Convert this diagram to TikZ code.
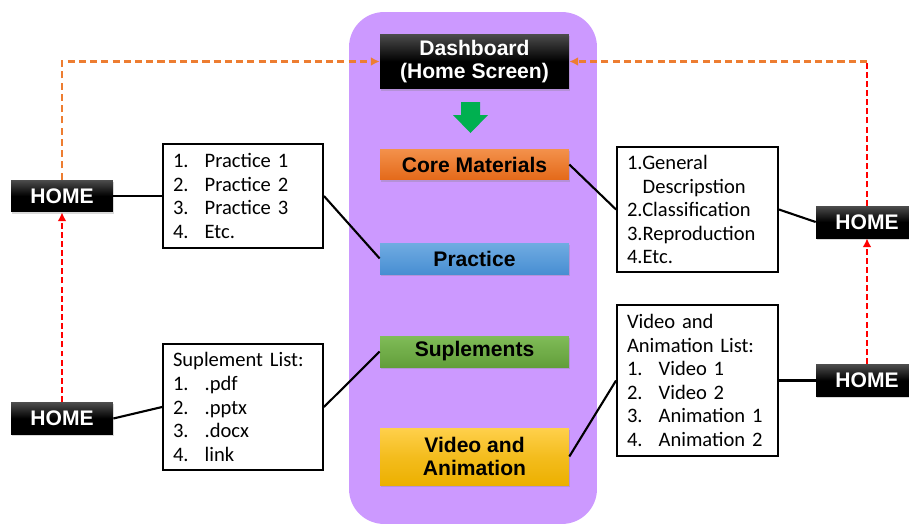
\documentclass[tikz,border=0pt]{standalone}
\usepackage{fontspec}
\setmainfont{Carlito}
\newfontfamily\arialfont{Liberation Sans}
\usepackage{tikz}
\usetikzlibrary{arrows.meta,positioning,calc,shadows}

\definecolor{panelpurple}{RGB}{204,153,255}
\definecolor{orangetop}{RGB}{243,145,75}
\definecolor{orangebot}{RGB}{228,105,25}
\definecolor{bluetop}{RGB}{112,172,226}
\definecolor{bluebot}{RGB}{72,142,210}
\definecolor{greentop}{RGB}{128,188,88}
\definecolor{greenbot}{RGB}{98,158,58}
\definecolor{yellowtop}{RGB}{255,208,75}
\definecolor{yellowbot}{RGB}{236,176,0}
\definecolor{arrowgreen}{RGB}{0,176,80}
\definecolor{dashorange}{RGB}{237,125,49}

\newcommand{\itm}[2]{\makebox[18pt][l]{#1}#2}

\begin{document}
\begin{tikzpicture}[
    x=0.02cm, y=-0.02cm,
    panel/.style={rectangle, fill=panelpurple, rounded corners=0.7cm, minimum width=4.96cm, minimum height=10.24cm, inner sep=0pt},
    menu/.style={rectangle, minimum width=3.78cm, minimum height=0.62cm, inner sep=1pt, align=center,
        font=\arialfont\bfseries\fontsize{12}{13}\selectfont,
        drop shadow={opacity=0.3, shadow xshift=0.6pt, shadow yshift=-1pt}},
    dark/.style={menu, top color=black!70, bottom color=black, middle color=black, text=white},
    home/.style={dark, minimum width=2.04cm, minimum height=0.64cm},
    list/.style={rectangle, draw, line width=1.1pt, fill=white, align=left, inner xsep=0.2cm, inner ysep=2pt,
        text width=2.8cm, font=\fontsize{11.7}{13.4}\selectfont},
    link/.style={line width=1.2pt},
    reddash/.style={red, line width=1.4pt, dash pattern=on 3.4pt off 1.8pt, -{Latex[length=5pt,width=5pt]}},
    orangedash/.style={dashorange, line width=1.4pt, dash pattern=on 4pt off 2.4pt, -{Latex[length=5pt,width=5pt]}}
]
    \useasboundingbox (0,0) rectangle (909,524);

    \node[panel] (bg) at (473,268) {};

    \node[dark, minimum height=1.1cm] (dash) at (474.5,61.5) {Dashboard\\(Home Screen)};
    \node[menu, top color=orangetop, bottom color=orangebot] (core) at (474.5,164.5) {Core Materials};
    \node[menu, top color=bluetop, bottom color=bluebot] (prac) at (474.5,258.5) {Practice};
    \node[menu, top color=greentop, bottom color=greenbot] (supl) at (474.5,351.5) {Suplements};
    \node[menu, top color=yellowtop, bottom color=yellowbot, middle color=yellowtop!40!yellowbot, minimum height=1.14cm] (vid) at (474.5,456.5) {Video and\\Animation};

    \fill[arrowgreen] (461,102) -- (480,102) -- (480,115) -- (488,115) -- (470.5,133) -- (453,115) -- (461,115) -- cycle;

    \node[home] (homeL1) at (62,196) {HOME};
    \node[home] (homeL2) at (62,418.5) {HOME};
    \node[home] (homeR1) at (867,222) {HOME};
    \node[home] (homeR2) at (867,380.5) {HOME};

    \node[list, minimum height=2.08cm] (listP) at (243,196)
        {\itm{1.}{Practice 1}\\ \itm{2.}{Practice 2}\\ \itm{3.}{Practice 3}\\ \itm{4.}{Etc.}};
    \node[list, minimum height=2.52cm] (listS) at (243,407)
        {Suplement List:\\ \itm{1.}{.pdf}\\ \itm{2.}{.pptx}\\ \itm{3.}{.docx}\\ \itm{4.}{link}};
    \node[list, text width=2.82cm, minimum height=2.5cm] (listC) at (697.5,209.5)
        {1.General\\ \phantom{1.}Descripstion\\ 2.Classification\\ 3.Reproduction\\ 4.Etc.};
    \node[list, text width=2.82cm, minimum height=3.02cm] (listV) at (697.5,380.5)
        {Video and\\ Animation List:\\ \itm{1.}{Video 1}\\ \itm{2.}{Video 2}\\ \itm{3.}{Animation 1}\\ \itm{4.}{Animation 2}};

    \draw[link] (homeL1) -- (listP);
    \draw[link] (listP.east) -- (prac.west);
    \draw[link] (homeL2.east) -- (listS.west);
    \draw[link] (listS.east) -- (supl.west);
    \draw[link] (core.east) -- (listC.west);
    \draw[link] (listC.east) -- (homeR1.west);
    \draw[link] (vid.east) -- (listV.west);
    \draw[link] (listV.east) -- (homeR2.west);

    \coordinate (cornerR) at (homeR1.north |- dash.east);
    \draw[reddash] (homeL2.north) -- (homeL1.south);
    \draw[orangedash] (homeL1.north) |- (dash.west);
    \draw[reddash] (homeR2.north) -- (homeR1.south);
    \draw[red, line width=1.4pt, dash pattern=on 3.4pt off 1.8pt] (homeR1.north) -- (cornerR);
    \draw[orangedash] (cornerR) -- (dash.east);
\end{tikzpicture}
\end{document}
